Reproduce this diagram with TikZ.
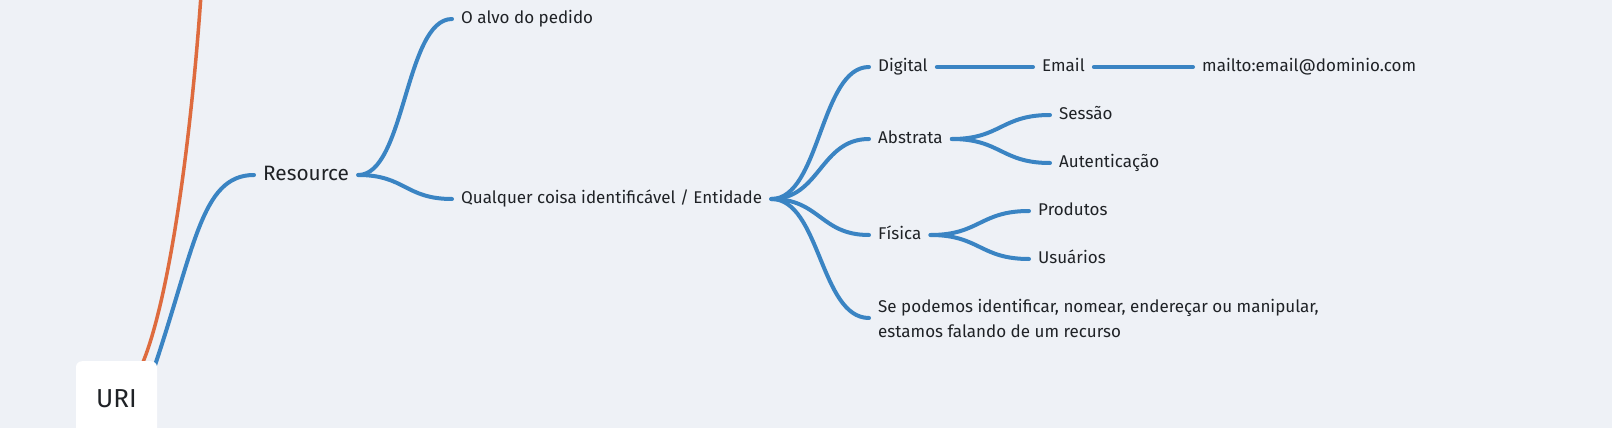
\documentclass[tikz,border=0pt]{standalone}
\usepackage{fontspec}
\setmainfont{Fira Sans}
\usetikzlibrary{calc}
\definecolor{bg}{HTML}{EEF1F6}
\definecolor{mmblue}{HTML}{3A84C3}
\definecolor{mmorange}{HTML}{DE6B3E}
\definecolor{ink}{HTML}{1F2226}
\tikzset{
  txt/.style={anchor=west, inner xsep=9pt, inner ysep=0pt, text=ink,
    font=\fontsize{17}{25}\selectfont, text height=12.5pt, text depth=3pt},
  txtml/.style={anchor=west, inner xsep=9pt, inner ysep=0pt, text=ink,
    font=\fontsize{17}{25}\selectfont, align=left},
  link/.style={draw=mmblue, line width=4pt, line cap=round},
  olink/.style={draw=mmorange, line width=3.5pt, line cap=round},
  rootbox/.style={draw=none, fill=white, rounded corners=6pt, minimum width=81pt,
    minimum height=74pt, anchor=north, text=ink, font=\fontsize{26}{30}\selectfont},
}
\newcommand\mmlink[2]{\draw[link] let \p1=(#1.east), \p2=(#2.west) in
  (\p1) .. controls ({(\x1+\x2)/2},\y1) and ({(\x1+\x2)/2},\y2) .. (\p2);}
\begin{document}
\begin{tikzpicture}[x=1pt,y=-1pt]
\fill[bg] (0,0) rectangle (1612,428);
\useasboundingbox (0,0) rectangle (1612,428);
\clip (0,0) rectangle (1612,428);

% text nodes
\node[txt, font=\fontsize{20.8}{24}\selectfont, text height=14.5pt, text depth=4pt] (res) at (254,175) {Resource};
\node[txt] (alvo) at (452,19) {O alvo do pedido};
\node[txt] (qual) at (452,199) {Qualquer coisa identificável / Entidade};
\node[txt] (dig) at (869,67) {Digital};
\node[txt] (abs) at (869,139) {Abstrata};
\node[txt] (fis) at (869,235) {Física};
\node[txtml] (se) at (869,318) {Se podemos identificar, nomear, endereçar ou manipular,\\estamos falando de um recurso};
\node[txt] (email) at (1033,67) {Email};
\node[txt] (mail) at (1193,67) {mailto:email@dominio.com};
\node[txt] (ses) at (1050,115) {Sessão};
\node[txt] (aut) at (1050,163) {Autenticação};
\node[txt] (prod) at (1029,211) {Produtos};
\node[txt] (usu) at (1029,259) {Usuários};

% connectors from the root (drawn under the box)
\coordinate (uriblue) at (150,380);
\coordinate (uriorange) at (130,385);
\coordinate (orangetop) at (201,-5);
\draw[olink] (uriorange) .. controls (158,355) and (187,195) .. (orangetop);
\draw[link] (uriblue) .. controls (195,250) and (200,175) .. (res.west);

\node[rootbox] (uri) at (116.5,361) {URI};

% mind map links
\mmlink{res}{alvo}
\mmlink{res}{qual}
\mmlink{qual}{dig}
\mmlink{qual}{abs}
\mmlink{qual}{fis}
\mmlink{qual}{se}
\mmlink{dig}{email}
\mmlink{email}{mail}
\mmlink{abs}{ses}
\mmlink{abs}{aut}
\mmlink{fis}{prod}
\mmlink{fis}{usu}
\end{tikzpicture}
\end{document}
